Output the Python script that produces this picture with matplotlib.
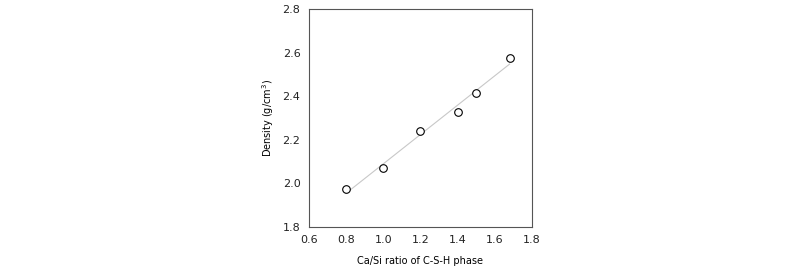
import matplotlib
matplotlib.use('Agg')
import matplotlib.pyplot as plt
import numpy as np

ca_si = [0.80, 1.00, 1.20, 1.40, 1.50, 1.68]
density = [1.973, 2.069, 2.239, 2.329, 2.416, 2.574]


def plot():
    fig = plt.figure(figsize=(8, 2.75), dpi=100)
    ax = fig.add_axes([0.386, 0.175, 0.279, 0.792])

    # linear trend line over the data range
    k, b = np.polyfit(ca_si, density, 1)
    xs = np.array([min(ca_si), max(ca_si)])
    ax.plot(xs, k * xs + b, color='#c8c8c8', lw=0.8, zorder=1)

    ax.scatter(ca_si, density, s=30, facecolors='white', edgecolors='black',
               linewidths=0.8, zorder=2)

    ax.set_xlim(0.6, 1.8)
    ax.set_ylim(1.8, 2.8)
    ax.set_xticks(np.arange(0.6, 1.81, 0.2))
    ax.set_yticks(np.arange(1.8, 2.81, 0.2))
    ax.xaxis.set_major_formatter(plt.FormatStrFormatter('%.1f'))
    ax.yaxis.set_major_formatter(plt.FormatStrFormatter('%.1f'))
    ax.tick_params(length=0, labelsize=8, pad=6, colors='#222222')
    for s in ax.spines.values():
        s.set_color('#555555')
        s.set_linewidth(0.8)

    ax.set_xlabel('Ca/Si ratio of C-S-H phase', fontsize=7, labelpad=8)
    ax.set_ylabel('Density (g/cm$^3$)', fontsize=7, labelpad=5)

    fig.savefig('out.png', dpi=100)


if __name__ == '__main__':
    plot()
